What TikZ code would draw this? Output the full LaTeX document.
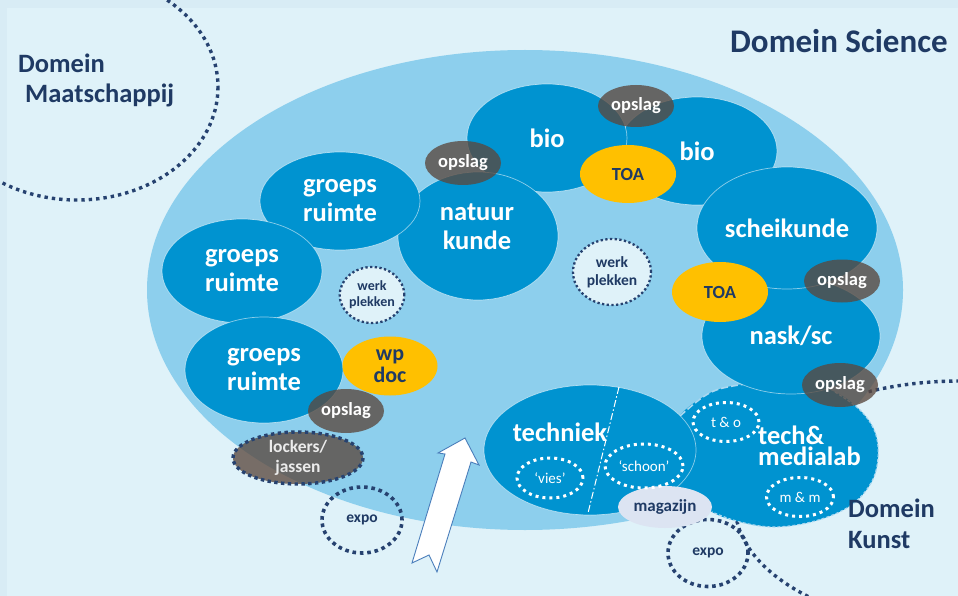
\documentclass[tikz,border=0pt]{standalone}
\usepackage{fontspec}
\setmainfont{Carlito}
\usetikzlibrary{shapes.geometric}
\definecolor{framec}{RGB}{216,236,245}
\definecolor{bgc}{RGB}{223,242,249}
\definecolor{mainc}{RGB}{141,207,237}
\definecolor{darkc}{RGB}{0,147,208}
\definecolor{yelc}{RGB}{255,192,0}
\definecolor{navyc}{RGB}{31,58,100}
\definecolor{dotc}{RGB}{38,66,112}
\definecolor{magc}{RGB}{220,228,242}
\definecolor{opc}{RGB}{90,72,62}
\definecolor{rimc}{RGB}{170,216,240}
\definecolor{arrc}{RGB}{74,126,187}
\newcommand\fbig{\fontsize{26.5}{29}\selectfont\bfseries}
\newcommand\fop{\fontsize{18.5}{20}\selectfont\bfseries}
\newcommand\fwp{\fontsize{22}{22}\selectfont\bfseries}
\newcommand\fsmall{\fontsize{15.5}{18}\selectfont\bfseries}
\newcommand\fsmaller{\fontsize{14}{16}\selectfont\bfseries}
\newcommand\fthin{\fontsize{15}{17}\selectfont}
\newcommand\fdom{\fontsize{26.5}{30}\selectfont\bfseries}
\begin{document}
\begin{tikzpicture}[x=1pt,y=-1pt,
  shp/.style={ellipse, inner sep=0pt, align=center},
  room/.style={shp, fill=darkc, draw=white, draw opacity=0.55, line width=0.7pt, text=white, font=\fbig},
  toa/.style={shp, fill=yelc, text=navyc, font=\fop},
  opslag/.style={shp, fill=opc, fill opacity=0.78, text opacity=1, text=white, font=\fop},
  navydots/.style={draw=dotc, line width=3.6pt, dash pattern=on 3.6pt off 3.8pt},
  smalldots/.style={draw=dotc, line width=2.3pt, dash pattern=on 2.3pt off 2.4pt},
  whitedots/.style={shp, draw=white, line width=3pt, dash pattern=on 3pt off 4pt, text=white, font=\fthin},
  domtext/.style={inner sep=0pt, anchor=base west, text=navyc, font=\fdom}]
\useasboundingbox (0,0) rectangle (958,596);
\clip (0,0) rectangle (958,596);
\fill[framec] (0,0) rectangle (958,596);
\fill[bgc] (7,8) rectangle (958,596);

% domain borders
\draw[navydots, dash pattern=on 3.4pt off 4pt, line width=3.4pt] (77,87) ellipse [x radius=141, y radius=113];
\draw[navydots, dash pattern=on 3.4pt off 4pt, line width=3.4pt] (960,505) ellipse [x radius=225, y radius=124];

% main zone
\node[shp, fill=mainc, minimum width=756pt, minimum height=480pt] (zone) at (525,290) {};

% rooms
\node[room, minimum width=160pt, minimum height=108pt] (bioR) at (697,151) {bio};
\node[room, minimum width=160pt, minimum height=108pt] (bioL) at (547,138) {bio};
\node[room, minimum width=160pt, minimum height=128pt] (natk) at (478,236) {};
\node[inner sep=0pt, align=center, text=white, font=\fbig] (natkt) at (477,227) {natuur\\kunde};
\node[room, minimum width=160pt, minimum height=98pt] (grA) at (340,201) {groeps\\ruimte};
\node[room, minimum width=160pt, minimum height=104pt] (grB) at (242,271) {groeps\\ruimte};
\node[room, minimum width=158pt, minimum height=106pt] (grC) at (264,370) {groeps\\ruimte};

% tech & medialab blob
\fill[darkc] plot[smooth cycle, tension=0.6] coordinates {(670,430) (683,412) (703,397) (723,388) (760,382) (800,383) (835,392) (860,410) (875,432) (878,458) (871,483) (850,506) (815,521) (775,527) (740,522) (712,512) (680,490) (665,460)};
\draw[rimc, line width=1.6pt, dash pattern=on 7pt off 3pt] plot[smooth, tension=0.6] coordinates {(680,416) (703,397) (723,388) (760,382)};
\draw[rimc, line width=1.2pt, dash pattern=on 3pt off 2pt] plot[smooth, tension=0.6] coordinates {(835,392) (860,410) (875,432) (878,458) (871,483) (850,506) (815,521) (775,527) (740,522) (712,512)};

\node[room, minimum width=178pt, minimum height=116pt] (nask) at (791,336) {nask/sc};
\node[room, minimum width=180pt, minimum height=122pt] (schei) at (787,228) {scheikunde};
\node[room, minimum width=212pt, minimum height=130pt] (tech) at (590,450) {};
\node[inner sep=0pt, anchor=base, text=white, font=\fbig] (techt) at (560,441) {techniek};
\coordinate (dv1) at (619,387);
\coordinate (dv2) at (588,513);
\draw[white, line width=1pt, dash pattern=on 7pt off 2.5pt on 1.5pt off 2.5pt] (dv1) -- (dv2);
\node[inner sep=0pt, anchor=base west, text=white, font=\fbig] (tml1) at (758,444) {tech\&};
\node[inner sep=0pt, anchor=base west, text=white, font=\fbig] (tml2) at (758,465) {medialab};

% yellow
\node[toa, minimum width=96pt, minimum height=58pt] (toaT) at (628,174) {TOA};
\node[toa, minimum width=96pt, minimum height=60pt] (toaR) at (720,292) {TOA};
\node[toa, minimum width=95pt, minimum height=59pt, font=\fwp] (wpdoc) at (390,366) {wp\\doc};

% opslag
\node[opslag, minimum width=76pt, minimum height=44pt] (op1) at (463,163) {opslag};
\node[opslag, minimum width=76pt, minimum height=42pt] (op2) at (636,106) {opslag};
\node[opslag, minimum width=76pt, minimum height=43pt] (op3) at (842,281) {opslag};
\node[opslag, minimum width=76pt, minimum height=44pt] (op4) at (840,385) {opslag};
\node[opslag, minimum width=76pt, minimum height=44pt] (op5) at (346,411) {opslag};

% lockers
\node[opslag, minimum width=130pt, minimum height=52pt, font=\fontsize{17.5}{20}\selectfont\bfseries, text=white!92!black] (lock) at (298,458) {lockers/\\jassen};
\draw[navydots, line width=3.4pt, dash pattern=on 3.4pt off 3.4pt] (lock.center) ellipse [x radius=65, y radius=26];

% werk plekken
\node[shp, fill=bgc, smalldots, minimum width=64pt, minimum height=56pt, text=navyc, font=\fsmaller] (wp1) at (372,295) {werk\\plekken};
\node[shp, fill=bgc, smalldots, minimum width=78pt, minimum height=66pt, text=navyc, font=\fsmall] (wp2) at (612,272) {werk\\plekken};

% expo
\node[shp, navydots, minimum width=80pt, minimum height=66pt, text=navyc, font=\fsmall] (expo1) at (362,520) {expo};
\node[shp, navydots, minimum width=80pt, minimum height=67pt, text=navyc, font=\fsmall] (expo2) at (708,553) {expo};

% magazijn
\node[shp, fill=magc, minimum width=94pt, minimum height=42pt, text=navyc, font=\fontsize{17}{20}\selectfont\bfseries] (mag) at (665,507) {magazijn};

% white dotted subspaces
\node[whitedots, minimum width=66pt, minimum height=40pt] (vies) at (550,478) {‘vies’};
\node[whitedots, minimum width=78pt, minimum height=44pt] (schoon) at (644,466) {‘schoon’};
\node[whitedots, minimum width=66pt, minimum height=39pt] (to) at (726,422) {t \& o};
\node[whitedots, minimum width=67pt, minimum height=39pt] (mm) at (800,497) {m \& m};

% entrance arrow
\draw[fill=white, draw=arrc, line width=0.9pt, line join=miter]
  (465,438) -- (479,465) -- (471,462) -- (437,572) -- (429,555) -- (412,563) -- (445,454) -- (438,453) -- cycle;

% domain labels
\node[domtext] (dm1) at (18,73) {Domein};
\node[domtext] (dm2) at (25,103) {Maatschappij};
\node[domtext, font=\fontsize{33}{36}\selectfont\bfseries] (ds) at (730,53) {Domein Science};
\node[domtext] (dk1) at (848,517) {Domein};
\node[domtext] (dk2) at (848,548) {Kunst};
\end{tikzpicture}
\end{document}
